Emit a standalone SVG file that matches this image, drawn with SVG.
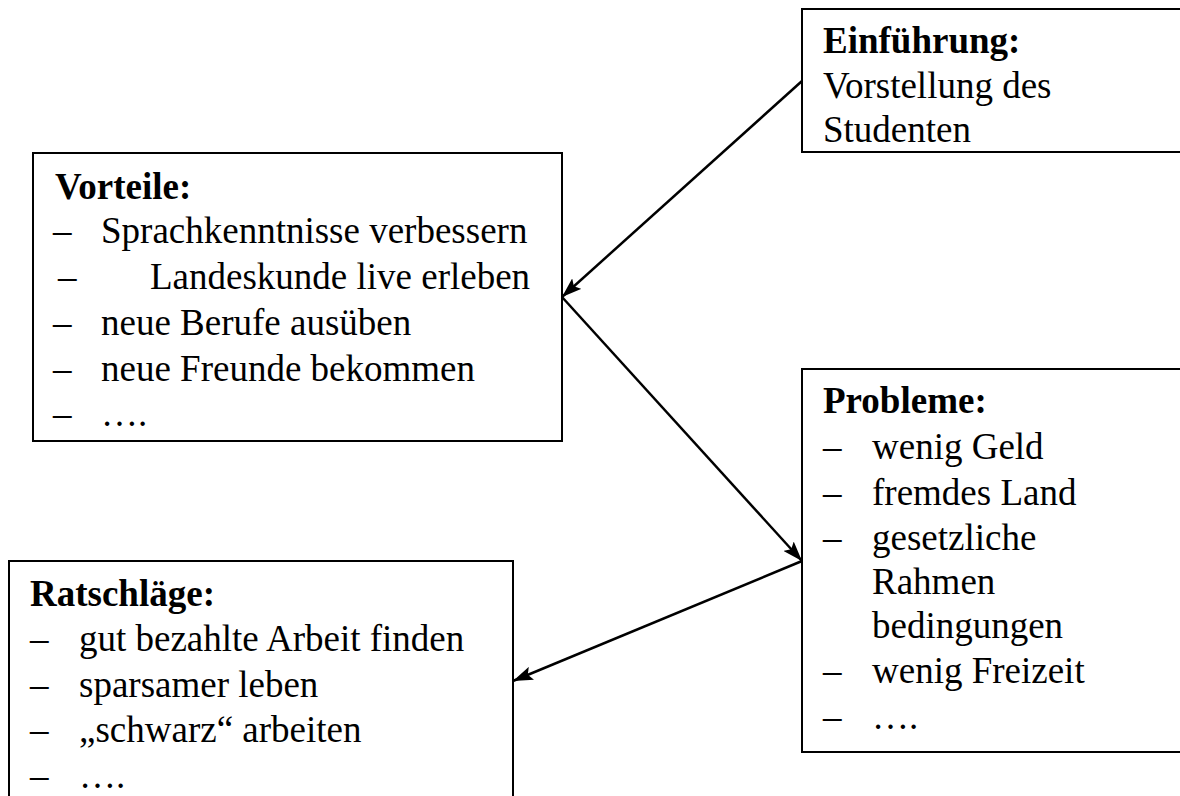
<svg xmlns="http://www.w3.org/2000/svg" width="1180" height="796" viewBox="0 0 1180 796">
<defs>
<style>
.box{fill:#fff;stroke:#000;stroke-width:2}
.t{font-family:"Liberation Serif","Times New Roman",serif;font-size:37px;fill:#000}
.b{font-weight:bold}
.c{fill:none;stroke:#000;stroke-width:2.5}
</style>
<marker id="ah" viewBox="0 0 20 14" refX="20" refY="7" markerWidth="20" markerHeight="14" markerUnits="userSpaceOnUse" orient="auto">
<path d="M0,0 L20,7 L0,14 L4,7 Z" fill="#000"/>
</marker>
</defs>
<rect width="1180" height="796" fill="#fff"/>
<g id="einfuehrung">
<rect class="box" x="802" y="9" width="400" height="143"/>
<text class="t b" x="823" y="53">Einführung:</text>
<text class="t" x="823" y="98">Vorstellung des</text>
<text class="t" x="823" y="142">Studenten</text>
</g>
<g id="vorteile">
<rect class="box" x="33" y="153" width="529" height="288"/>
<text class="t b" x="55" y="199">Vorteile:</text>
<text class="t" x="53" y="243">–</text><text class="t" x="101" y="243">Sprachkenntnisse verbessern</text>
<text class="t" x="58" y="289">–</text><text class="t" x="150" y="289">Landeskunde live erleben</text>
<text class="t" x="53" y="335">–</text><text class="t" x="101" y="335">neue Berufe ausüben</text>
<text class="t" x="53" y="381">–</text><text class="t" x="101" y="381">neue Freunde bekommen</text>
<text class="t" x="53" y="426">–</text><text class="t" x="101" y="426">….</text>
</g>
<g id="probleme">
<rect class="box" x="802" y="369" width="400" height="383"/>
<text class="t b" x="823" y="413">Probleme:</text>
<text class="t" x="823" y="459">–</text><text class="t" x="872" y="459">wenig Geld</text>
<text class="t" x="823" y="505">–</text><text class="t" x="872" y="505">fremdes Land</text>
<text class="t" x="823" y="550">–</text><text class="t" x="872" y="550">gesetzliche</text>
<text class="t" x="872" y="594">Rahmen</text>
<text class="t" x="872" y="638">bedingungen</text>
<text class="t" x="823" y="683">–</text><text class="t" x="872" y="683">wenig Freizeit</text>
<text class="t" x="823" y="729">–</text><text class="t" x="872" y="729">….</text>
</g>
<g id="ratschlaege">
<rect class="box" x="9" y="561" width="504" height="260"/>
<text class="t b" x="30" y="606">Ratschläge:</text>
<text class="t" x="30" y="651">–</text><text class="t" x="79" y="651">gut bezahlte Arbeit finden</text>
<text class="t" x="30" y="697">–</text><text class="t" x="79" y="697">sparsamer leben</text>
<text class="t" x="30" y="742">–</text><text class="t" x="79" y="742">„schwarz“ arbeiten</text>
<text class="t" x="30" y="788">–</text><text class="t" x="79" y="788">….</text>
</g>
<g id="connectors">
<line class="c" x1="802" y1="81" x2="562" y2="297" marker-end="url(#ah)"/>
<line class="c" x1="562" y1="297" x2="802" y2="561" marker-end="url(#ah)"/>
<line class="c" x1="802" y1="561" x2="513" y2="681" marker-end="url(#ah)"/>
</g>
</svg>
